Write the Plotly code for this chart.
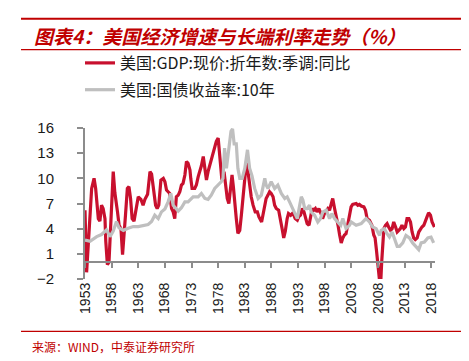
import plotly.graph_objects as go

# ---------------- data ----------------
gdp_year = [1953.0, 1953.3, 1954.25, 1954.7, 1955.0, 1955.25, 1955.5, 1955.8, 1956.1, 1956.4,
            1956.75, 1956.9, 1957.2, 1957.5, 1957.9, 1958.3, 1958.6, 1958.9, 1959.1, 1959.4,
            1959.75, 1960.05, 1960.35, 1960.6, 1960.95, 1961.25, 1961.55, 1961.85, 1962.2, 1962.55,
            1963.0, 1963.5, 1963.9, 1964.25, 1964.75, 1965.0, 1965.2, 1965.5, 1965.9, 1966.25,
            1966.55, 1966.85, 1967.25, 1967.7, 1968.0, 1968.3, 1968.6, 1968.9, 1969.25, 1969.55,
            1969.85, 1970.15, 1970.5, 1970.8, 1971.1, 1971.4, 1971.75, 1972.05, 1972.35, 1972.7,
            1972.85, 1973.1, 1973.6, 1973.9, 1974.25, 1974.55, 1974.85, 1975.2, 1975.5, 1975.8,
            1976.1, 1976.4, 1976.7, 1977.05, 1977.35, 1977.65, 1978.0, 1978.4, 1978.7, 1979.1,
            1979.35, 1979.7, 1980.0, 1980.35, 1980.6, 1980.85, 1981.1, 1981.4, 1981.7, 1982.05,
            1982.35, 1982.65, 1983.0, 1983.3, 1983.6, 1983.9, 1984.2, 1984.55, 1984.95, 1985.35,
            1985.65, 1986.15, 1986.6, 1987.0, 1987.35, 1987.65, 1987.95, 1988.3, 1988.6, 1988.9,
            1989.35, 1989.7, 1990.0, 1990.3, 1990.6, 1990.95, 1991.2, 1991.6, 1991.9, 1992.2,
            1992.45, 1992.85, 1993.1, 1993.45, 1993.8, 1994.1, 1994.4, 1994.7, 1995.05, 1995.35,
            1995.65, 1995.95, 1996.25, 1996.55, 1996.9, 1997.3, 1997.6, 1997.95, 1998.3, 1998.6,
            1998.9, 1999.2, 1999.5, 1999.85, 2000.15, 2000.5, 2000.8, 2001.1, 2001.4, 2001.7,
            2002.0, 2002.35, 2002.65, 2002.95, 2003.25, 2003.9, 2004.2, 2004.5, 2004.85, 2005.35,
            2005.65, 2005.95, 2006.4, 2006.85, 2007.2, 2007.45, 2007.7, 2007.95, 2008.2, 2008.45,
            2008.7, 2008.9, 2009.1, 2009.4, 2009.7, 2010.0, 2010.35, 2010.65, 2010.95, 2011.3,
            2011.6, 2011.9, 2012.2, 2012.5, 2012.85, 2013.15, 2013.45, 2013.8, 2014.1, 2014.4,
            2014.7, 2015.0, 2015.35, 2015.65, 2015.95, 2016.25, 2016.6, 2016.9, 2017.2, 2017.5,
            2017.85, 2018.15, 2018.6]
gdp_value = [6.2, -1.2, 8.8, 10.0, 8.8, 6.4, 5.2, 4.9, 6.8, 6.4,
             5.2, 2.5, -0.3, 0.0, 6.4, 10.8, 8.3, 6.4, 6.0, 4.4,
             4.0, 0.9, 3.0, 5.6, 8.8, 9.0, 7.6, 5.2, 4.9, 6.4,
             7.8, 7.5, 6.8, 7.5, 8.1, 9.6, 10.8, 10.5, 8.8, 6.8,
             6.4, 6.8, 9.8, 10.0, 9.6, 8.6, 8.4, 8.2, 6.4, 6.0,
             5.2, 7.8, 8.0, 8.4, 9.2, 9.4, 10.4, 12.0, 11.8, 11.0,
             10.0, 8.8, 8.8, 9.2, 10.2, 10.8, 11.5, 12.6, 11.3, 9.8,
             10.8, 11.5, 12.0, 12.8, 13.6, 14.4, 14.8, 12.0, 9.8, 10.8,
             9.2, 7.6, 7.0, 9.2, 10.4, 9.0, 6.8, 5.2, 3.45, 3.8,
             5.6, 7.6, 10.8, 12.0, 10.8, 9.2, 7.8, 6.8, 6.0, 6.0,
             5.4, 4.8, 6.4, 7.6, 8.0, 8.4, 8.2, 7.8, 6.8, 6.4,
             6.2, 5.2, 4.0, 2.9, 3.7, 5.2, 5.8, 5.6, 5.8, 5.6,
             5.2, 5.0, 5.4, 5.6, 6.4, 6.0, 5.2, 4.6, 4.4, 5.6,
             6.4, 6.2, 6.4, 6.0, 6.4, 5.8, 5.2, 5.8, 6.2, 6.4,
             6.2, 6.8, 7.6, 6.4, 5.2, 4.4, 3.25, 2.3, 2.9, 3.25,
             3.4, 4.6, 5.8, 6.6, 6.9, 7.0, 6.8, 6.9, 6.7, 6.6,
             6.2, 5.2, 5.0, 4.4, 3.25, 2.9, 1.5, -0.3, -2.6, -3.2,
             0.1, 2.9, 4.0, 4.4, 4.6, 4.2, 3.8, 4.0, 4.8, 4.2,
             3.6, 3.8, 4.0, 4.4, 4.0, 4.2, 5.2, 5.2, 4.8, 3.6,
             2.9, 2.7, 2.9, 3.6, 4.0, 4.2, 4.4, 4.8, 5.4, 5.9,
             5.6, 4.8, 4.2]

yield_year = [1953.0, 1953.95, 1955.2, 1956.1, 1957.05, 1957.7, 1958.3, 1958.9, 1959.4, 1960.2,
              1961.1, 1962.05, 1963.0, 1964.25, 1964.85, 1965.5, 1966.1, 1966.75, 1967.35, 1968.0,
              1968.6, 1969.1, 1969.55, 1970.5, 1971.1, 1971.75, 1972.35, 1973.3, 1974.25, 1974.85,
              1975.5, 1976.1, 1976.7, 1977.35, 1978.0, 1978.6, 1978.9, 1979.2, 1979.55, 1979.95,
              1980.4, 1980.7, 1981.0, 1981.4, 1981.7, 1982.05, 1982.5, 1983.0, 1983.5, 1983.9,
              1984.35, 1984.85, 1985.5, 1986.1, 1986.75, 1987.0, 1987.35, 1987.95, 1988.6, 1989.2,
              1989.85, 1990.5, 1990.95, 1991.4, 1991.85, 1992.35, 1992.85, 1993.3, 1993.6, 1993.9,
              1994.25, 1994.7, 1995.15, 1995.45, 1996.1, 1996.7, 1997.2, 1997.65, 1998.3, 1998.9,
              1999.35, 1999.85, 2000.5, 2001.0, 2001.4, 2002.0, 2002.65, 2002.95, 2003.9, 2004.85,
              2005.75, 2006.4, 2007.0, 2007.65, 2007.95, 2008.3, 2008.6, 2009.2, 2009.7, 2010.15,
              2010.65, 2011.1, 2011.6, 2012.05, 2012.65, 2013.25, 2013.9, 2014.5, 2015.15, 2015.65,
              2016.1, 2016.7, 2017.35, 2017.95, 2018.45]
yield_value = [2.65, 2.5, 3.05, 3.3, 3.85, 3.05, 3.7, 4.85, 4.1, 3.8,
               4.05, 4.25, 4.25, 4.45, 4.5, 4.85, 5.6, 5.2, 6.0, 6.35,
               7.2, 8.2, 6.8, 6.1, 6.5, 7.2, 7.2, 7.8, 7.8, 8.2,
               7.6, 7.5, 8.0, 8.8, 9.2, 9.6, 10.0, 13.6, 11.2, 13.2,
               15.6, 15.9, 14.1, 14.1, 11.2, 10.0, 10.0, 11.2, 13.4, 11.2,
               10.3, 8.8, 7.6, 8.0, 10.0, 9.2, 8.8, 9.6, 8.8, 9.2,
               8.2, 7.6, 7.8, 7.2, 6.6, 5.8, 5.2, 6.8, 7.8, 7.4,
               6.4, 6.4, 6.8, 6.0, 5.6, 4.8, 5.2, 6.0, 6.2, 5.2,
               5.8, 5.2, 4.8, 4.4, 5.2, 4.0, 4.4, 4.8, 4.4, 4.6,
               5.2, 4.8, 4.2, 4.0, 3.6, 3.2, 3.8, 4.0, 3.4, 3.0,
               3.6, 2.9, 1.9, 1.9, 2.3, 3.2, 2.9, 2.3, 1.9, 1.5,
               2.3, 2.4, 2.9, 3.0, 2.3]

series_names = ["美国:GDP:现价:折年数:季调:同比", "美国:国债收益率:10年"]
tick_years = [1953, 1958, 1963, 1968, 1973, 1978, 1983, 1988, 1993, 1998, 2003, 2008, 2013, 2018]
y_ticks = [-2, 1, 4, 7, 10, 13, 16]
title_text = "图表4：美国经济增速与长端利率走势（%）"
source_text = "来源：WIND，中泰证券研究所"

# ---------------- layout geometry ----------------
W, H = 469, 361
L, R, T, B = 77, 42, 120, 90
PW, PH = W - L - R, H - T - B
x_range = [1953.0, 2018.7]
y_range = [-2, 16]

def px2x(px):
    return (px - L) / PW

def px2y(py):
    return (H - B - py) / PH

RED = "#C8102E"
GRAY = "#BFBFBF"
AXIS = "#8C8C8C"
DARKRED = "#C00000"
TXT = "#1A1A1A"

fig = go.Figure()
fig.add_trace(go.Scatter(x=gdp_year, y=gdp_value, mode="lines", name=series_names[0],
                         line=dict(color=RED, width=3.2), legendgroup="a", xaxis="x"))
fig.add_trace(go.Scatter(x=yield_year, y=yield_value, mode="lines", name=series_names[1],
                         line=dict(color=GRAY, width=3.2), legendgroup="b", xaxis="x2"))

zero_pos = (0 - y_range[0]) / (y_range[1] - y_range[0])

fig.update_layout(
    width=W, height=H,
    margin=dict(l=L, r=R, t=T, b=B),
    paper_bgcolor="white", plot_bgcolor="white",
    showlegend=True,
    legend=dict(x=px2x(72), y=px2y(38), xanchor="left", yanchor="top",
                font=dict(family="Noto Sans CJK SC", size=16, color=TXT),
                traceorder="grouped", tracegroupgap=3, bgcolor="rgba(0,0,0,0)"),
    xaxis=dict(range=x_range, tickmode="array", tickvals=tick_years,
               ticktext=[str(v) for v in tick_years], tickangle=-90,
               showline=False, ticks="", showgrid=False, zeroline=False,
               tickfont=dict(family="Liberation Sans", size=14, color=TXT)),
    xaxis2=dict(range=x_range, overlaying="x", anchor="free", position=zero_pos,
                side="bottom", tickmode="array", tickvals=tick_years,
                showticklabels=False, showline=True, linecolor=AXIS, linewidth=2,
                ticks="outside", ticklen=5, tickwidth=1.5, tickcolor=AXIS,
                showgrid=False, zeroline=False),
    yaxis=dict(range=y_range, tickmode="array", tickvals=y_ticks,
               ticktext=[("−" + str(-v)) if v < 0 else str(v) for v in y_ticks],
               showline=True, linecolor=AXIS, linewidth=2,
               ticks="outside", ticklen=6, tickwidth=1.5, tickcolor=AXIS,
               showgrid=False, zeroline=False, ticklabelstandoff=20,
               tickfont=dict(family="Liberation Sans", size=15, color=TXT)),
)

# decorative header / footer rules
for py, w in [(10.7, 2), (41.7, 1.3), (323.3, 1.3)]:
    fig.add_shape(type="line", xref="paper", yref="paper",
                  x0=px2x(13), x1=px2x(457), y0=px2y(py), y1=px2y(py),
                  line=dict(color=DARKRED, width=w))

fig.add_annotation(text=title_text, xref="paper", yref="paper",
                   x=px2x(24), y=px2y(27), xanchor="left", yanchor="middle", showarrow=False,
                   font=dict(family="Noto Sans CJK SC", size=19, color=DARKRED,
                             weight="bold", style="italic"))
fig.add_annotation(text=source_text, xref="paper", yref="paper",
                   x=px2x(22), y=px2y(338), xanchor="left", yanchor="middle", showarrow=False,
                   font=dict(family="Noto Sans CJK SC", size=12, color=DARKRED))

fig.write_html("out.html")
